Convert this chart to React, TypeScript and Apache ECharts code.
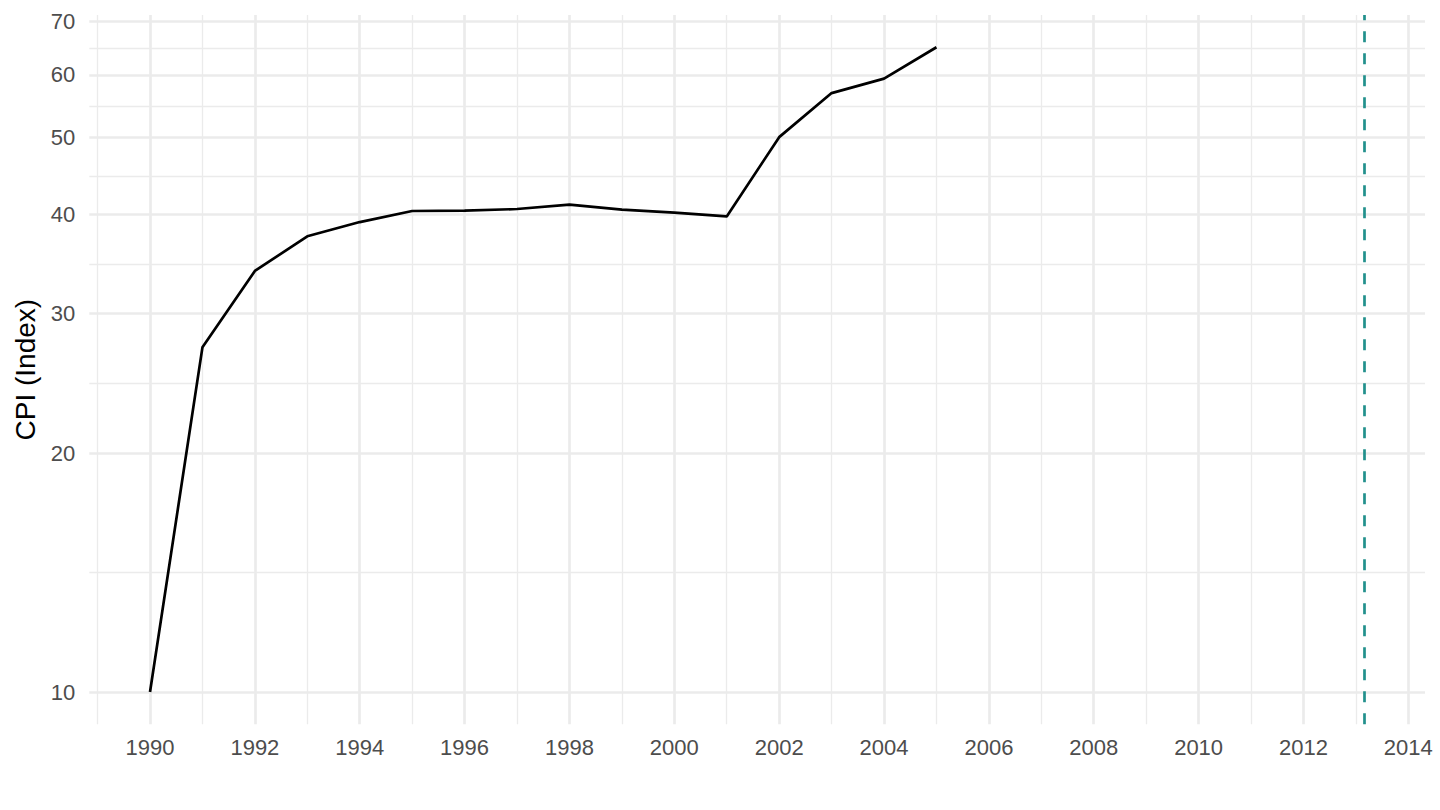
import React, { useEffect, useRef } from "react";
import * as echarts from "echarts";

// ---- data ----
const years = [1990, 1991, 1992, 1993, 1994, 1995, 1996, 1997, 1998, 1999, 2000, 2001, 2002, 2003, 2004, 2005];
const cpi = [10.0, 27.2, 33.95, 37.55, 39.13, 40.41, 40.46, 40.64, 41.16, 40.57, 40.22, 39.78, 50.07, 56.9, 59.34, 65.0];
const yTicks = [10, 20, 30, 40, 50, 60, 70];
const xTicks = [1990, 1992, 1994, 1996, 1998, 2000, 2002, 2004, 2006, 2008, 2010, 2012, 2014];
const xMinorTicks = [1989, 1991, 1993, 1995, 1997, 1999, 2001, 2003, 2005, 2007, 2009, 2011, 2013];
const vlineYear = 2013.16;

const FONT = "'Liberation Sans', Arial, Helvetica, sans-serif";
const GRID = "#EBEBEB";

export default function App() {
  const ref = useRef<HTMLDivElement>(null);

  useEffect(() => {
    if (!ref.current) return;
    const chart = echarts.init(ref.current, undefined, { renderer: "svg" });

    // log-transformed y scale (like ggplot scale_y_log10)
    const logs = cpi.map((v) => Math.log10(v));
    const lo = Math.min(...logs);
    const hi = Math.max(...logs);
    const yMin = lo - (hi - lo) * 0.05;
    const yMax = hi + (hi - lo) * 0.05;
    const yMajor = yTicks.map((v) => Math.log10(v));
    const yMinor: number[] = [];
    for (let i = 0; i < yMajor.length - 1; i++) yMinor.push((yMajor[i] + yMajor[i + 1]) / 2);

    const xLo = years[0];
    const xHi = vlineYear;
    const xMin = xLo - (xHi - xLo) * 0.05;
    const xMax = xHi + (xHi - xLo) * 0.05;

    const hidden = { show: false };
    const labelStyle = { color: "#4D4D4D", fontSize: 22, fontFamily: FONT };

    chart.setOption({
      animation: false,
      backgroundColor: "#FFFFFF",
      grid: { left: 89.3, right: 15, top: 15, bottom: 85.7, containLabel: false, outerBoundsMode: "none" },
      xAxis: [
        {
          type: "value",
          min: xMin,
          max: xMax,
          axisLine: hidden,
          axisTick: { show: false, customValues: xMinorTicks },
          axisLabel: { show: false },
          splitLine: { show: true, lineStyle: { color: GRID, width: 1.35 } },
        },
        {
          type: "value",
          min: xMin,
          max: xMax,
          position: "bottom",
          axisLine: hidden,
          axisTick: { show: false, customValues: xTicks },
          axisLabel: {
            ...labelStyle,
            margin: 12,
            customValues: xTicks,
            formatter: (v: number) => String(Math.round(v)),
          },
          splitLine: { show: true, lineStyle: { color: GRID, width: 2.7 } },
        },
      ],
      yAxis: [
        {
          type: "value",
          min: yMin,
          max: yMax,
          axisLine: hidden,
          axisTick: { show: false, customValues: yMinor },
          axisLabel: { show: false },
          splitLine: { show: true, lineStyle: { color: GRID, width: 1.35 } },
        },
        {
          type: "value",
          min: yMin,
          max: yMax,
          position: "left",
          axisLine: hidden,
          axisTick: { show: false, customValues: yMajor },
          axisLabel: {
            ...labelStyle,
            margin: 14,
            customValues: yMajor,
            formatter: (v: number) => String(Math.round(Math.pow(10, v))),
          },
          splitLine: { show: true, lineStyle: { color: GRID, width: 2.7 } },
          name: "CPI (Index)",
          nameLocation: "middle",
          nameGap: 47,
          nameTextStyle: { color: "#000000", fontSize: 28, fontFamily: FONT },
        },
      ],
      series: [
        {
          type: "line",
          xAxisIndex: 1,
          yAxisIndex: 1,
          data: years.map((y, i) => [y, Math.log10(cpi[i])]),
          showSymbol: false,
          symbol: "none",
          lineStyle: { color: "#000000", width: 2.7 },
          markLine: {
            silent: true,
            symbol: ["none", "none"],
            label: { show: false },
            lineStyle: { color: "#21908C", width: 2.7, type: [11, 11] },
            data: [{ xAxis: vlineYear }],
          },
        },
      ],
    });

    return () => chart.dispose();
  }, []);

  return (
    <div
      ref={ref}
      style={{ position: "fixed", left: 0, top: 0, width: 1440, height: 810, background: "#fff" }}
    />
  );
}
